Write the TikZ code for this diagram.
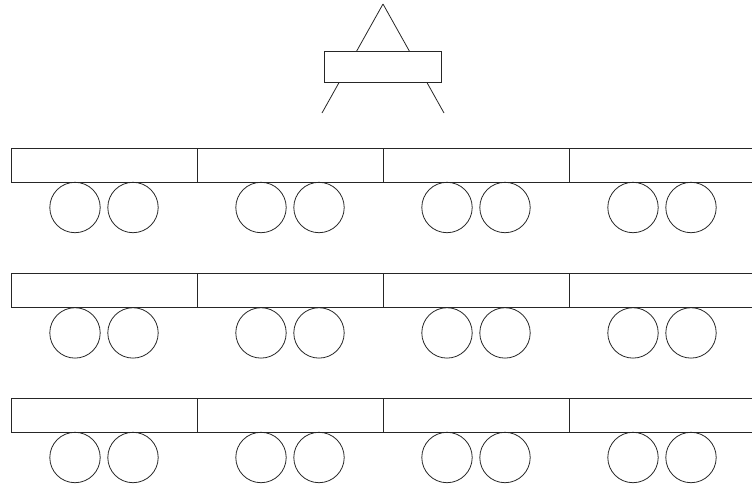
\documentclass[tikz,border=0pt]{standalone}
\begin{document}
\begin{tikzpicture}[x=0.75pt,y=-0.75pt, line width=0.6pt, draw=black!85,
  car/.style={draw=black!85,minimum width=139.5pt,minimum height=25.5pt,inner sep=0pt,outer sep=0pt},
  wheel/.style={draw=black!85,circle,minimum size=37.8pt,inner sep=0pt,outer sep=0pt},
  plate/.style={draw=black!85,fill=white,minimum width=87.75pt,minimum height=23.25pt,inner sep=0pt,outer sep=0pt}]
\useasboundingbox (0,0) rectangle (752,486);
% crane on top
\coordinate (apex) at (383,4);
\coordinate (footL) at (322,113);
\coordinate (footR) at (444,113);
\draw[black!85] (apex)--(footL); \draw[black!85] (apex)--(footR);
\node[plate] (top) at (382.5,66.5) {};
% row 1
\node[car] (c11) at (104,165.3) {}; \node[wheel] (w111) at (75,207.5) {}; \node[wheel] (w112) at (133,207.5) {};
\node[car] (c12) at (290,165.3) {}; \node[wheel] (w121) at (261,207.5) {}; \node[wheel] (w122) at (319,207.5) {};
\node[car] (c13) at (476,165.3) {}; \node[wheel] (w131) at (447,207.5) {}; \node[wheel] (w132) at (505,207.5) {};
\node[car] (c14) at (662,165.3) {}; \node[wheel] (w141) at (633,207.5) {}; \node[wheel] (w142) at (691,207.5) {};
% row 2
\node[car] (c21) at (104,290.7) {}; \node[wheel] (w211) at (75,332.9) {}; \node[wheel] (w212) at (133,332.9) {};
\node[car] (c22) at (290,290.7) {}; \node[wheel] (w221) at (261,332.9) {}; \node[wheel] (w222) at (319,332.9) {};
\node[car] (c23) at (476,290.7) {}; \node[wheel] (w231) at (447,332.9) {}; \node[wheel] (w232) at (505,332.9) {};
\node[car] (c24) at (662,290.7) {}; \node[wheel] (w241) at (633,332.9) {}; \node[wheel] (w242) at (691,332.9) {};
% row 3
\node[car] (c31) at (104,415.7) {}; \node[wheel] (w311) at (75,457.5) {}; \node[wheel] (w312) at (133,457.5) {};
\node[car] (c32) at (290,415.7) {}; \node[wheel] (w321) at (261,457.5) {}; \node[wheel] (w322) at (319,457.5) {};
\node[car] (c33) at (476,415.7) {}; \node[wheel] (w331) at (447,457.5) {}; \node[wheel] (w332) at (505,457.5) {};
\node[car] (c34) at (662,415.7) {}; \node[wheel] (w341) at (633,457.5) {}; \node[wheel] (w342) at (691,457.5) {};
\end{tikzpicture}
\end{document}
